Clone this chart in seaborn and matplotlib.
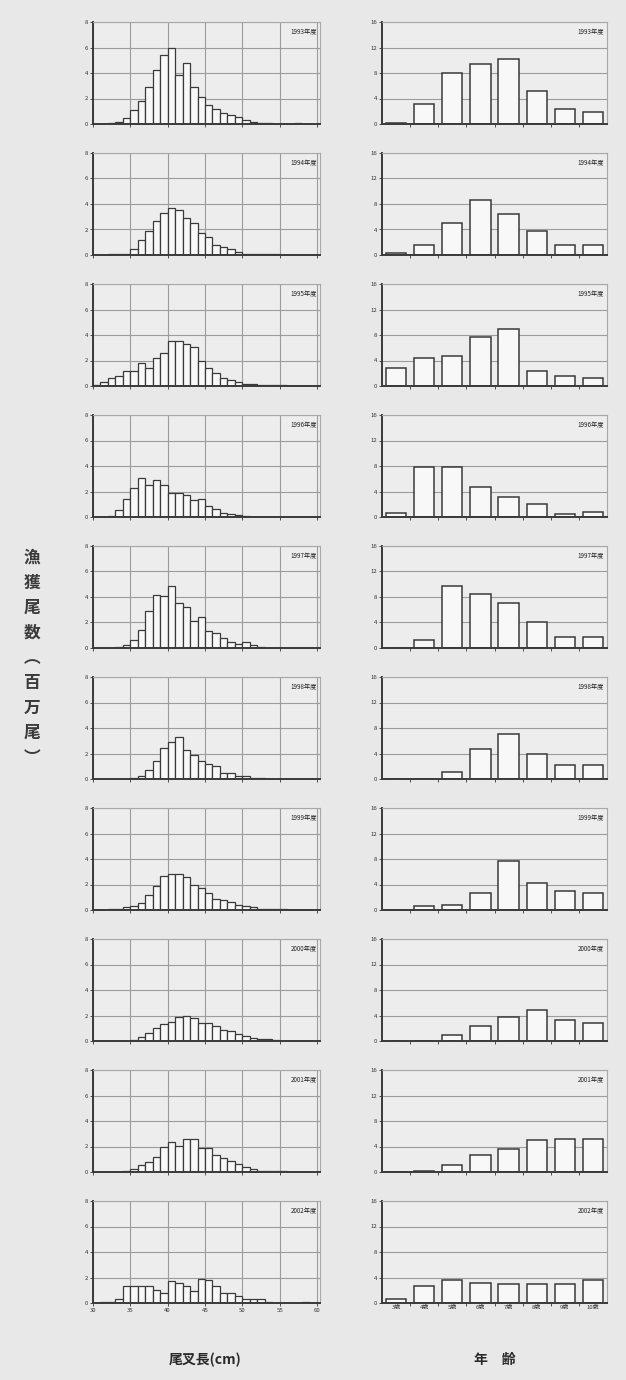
import numpy as np
import matplotlib
matplotlib.use("Agg")
import matplotlib.pyplot as plt
import seaborn as sns

# fork length classes (cm), lower edge of each 1 cm bar
lengths = list(range(30, 60))
age_labels = ["3歳", "4歳", "5歳", "6歳", "7歳", "8歳", "9歳", "10歳"]
years = [1993, 1994, 1995, 1996, 1997, 1998, 1999, 2000, 2001, 2002]

# catch by fork length (million fish), 30-59 cm
fl_1993 = [0, 0, 0.05, 0.15, 0.5, 1.1, 1.8, 2.9, 4.2, 5.4, 6.0, 3.85, 4.75, 2.9, 2.1,
           1.5, 1.2, 0.87, 0.7, 0.55, 0.35, 0.18, 0.1, 0.05, 0.03, 0.02, 0.02, 0.05, 0.02, 0]
fl_1994 = [0, 0, 0.05, 0.05, 0.05, 0.5, 1.2, 1.9, 2.7, 3.3, 3.7, 3.55, 2.9, 2.5, 1.7,
           1.4, 0.75, 0.6, 0.5, 0.2, 0.1, 0.08, 0.05, 0.05, 0.05, 0.03, 0.03, 0.02, 0.02, 0.02]
fl_1995 = [0.1, 0.3, 0.6, 0.8, 1.2, 1.2, 1.8, 1.4, 2.2, 2.6, 3.5, 3.5, 3.3, 3.05, 2.0,
           1.4, 1.0, 0.6, 0.45, 0.3, 0.15, 0.15, 0.05, 0.05, 0.05, 0.05, 0.02, 0.02, 0.02, 0.02]
fl_1996 = [0, 0, 0.05, 0.55, 1.45, 2.25, 3.05, 2.5, 2.9, 2.5, 1.85, 1.9, 1.7, 1.3, 1.45,
           0.85, 0.65, 0.3, 0.25, 0.15, 0.05, 0.02, 0.02, 0, 0, 0, 0, 0, 0, 0]
fl_1997 = [0, 0, 0, 0.05, 0.25, 0.65, 1.45, 2.9, 4.15, 4.05, 4.9, 3.5, 3.25, 2.1, 2.45,
           1.3, 1.15, 0.8, 0.5, 0.3, 0.5, 0.2, 0.05, 0.02, 0, 0, 0, 0, 0, 0]
fl_1998 = [0, 0, 0, 0, 0.02, 0.05, 0.2, 0.7, 1.45, 2.45, 2.9, 3.3, 2.3, 1.9, 1.45,
           1.2, 1.05, 0.45, 0.45, 0.2, 0.2, 0.1, 0.05, 0.02, 0, 0, 0, 0, 0, 0]
fl_1999 = [0, 0, 0.05, 0.1, 0.25, 0.35, 0.55, 1.2, 1.9, 2.65, 2.85, 2.85, 2.6, 2.0, 1.7,
           1.35, 0.9, 0.8, 0.6, 0.4, 0.35, 0.2, 0.1, 0.08, 0.05, 0.05, 0.02, 0.02, 0.02, 0.02]
fl_2000 = [0, 0, 0, 0, 0, 0.05, 0.3, 0.6, 1.05, 1.3, 1.5, 1.9, 1.95, 1.8, 1.45,
           1.4, 1.2, 0.9, 0.8, 0.55, 0.4, 0.25, 0.15, 0.15, 0.05, 0.02, 0, 0, 0, 0]
fl_2001 = [0, 0, 0, 0, 0.1, 0.25, 0.55, 0.75, 1.15, 1.95, 2.35, 2.05, 2.6, 2.55, 1.9,
           1.85, 1.35, 1.1, 0.85, 0.6, 0.4, 0.2, 0.1, 0.08, 0.05, 0.05, 0.02, 0.02, 0.02, 0.02]
fl_2002 = [0, 0.1, 0.1, 0.35, 1.3, 1.3, 1.3, 1.3, 1.0, 0.75, 1.75, 1.55, 1.3, 0.95, 1.9,
           1.8, 1.3, 0.75, 0.75, 0.55, 0.35, 0.35, 0.35, 0.1, 0.02, 0.02, 0.02, 0.02, 0.05, 0.02]

# catch by age (million fish), 3-10 years
age_1993 = [0.15, 3.2, 8.0, 9.4, 10.2, 5.2, 2.3, 1.9]
age_1994 = [0.3, 1.6, 5.0, 8.7, 6.5, 3.7, 1.6, 1.5]
age_1995 = [2.9, 4.4, 4.7, 7.7, 9.0, 2.3, 1.6, 1.2]
age_1996 = [0.7, 7.8, 7.8, 4.75, 3.2, 2.0, 0.4, 0.8]
age_1997 = [0, 1.2, 9.8, 8.5, 7.1, 4.0, 1.75, 1.75]
age_1998 = [0.05, 0.05, 1.15, 4.7, 7.0, 3.9, 2.2, 2.2]
age_1999 = [0.05, 0.55, 0.8, 2.6, 7.7, 4.3, 3.0, 2.6]
age_2000 = [0, 0, 1.0, 2.3, 3.8, 4.9, 3.3, 2.85]
age_2001 = [0, 0.2, 1.1, 2.7, 3.55, 5.0, 5.15, 5.15]
age_2002 = [0.6, 2.6, 3.55, 3.2, 3.05, 3.05, 3.05, 3.55]

fl_rows = [fl_1993, fl_1994, fl_1995, fl_1996, fl_1997,
           fl_1998, fl_1999, fl_2000, fl_2001, fl_2002]
age_rows = [age_1993, age_1994, age_1995, age_1996, age_1997,
            age_1998, age_1999, age_2000, age_2001, age_2002]

sns.set_theme(style="whitegrid")
plt.rcParams['font.family'] = ['Noto Sans CJK JP', 'DejaVu Sans']

W, H = 626, 1380
fig = plt.figure(figsize=(W / 100, H / 100), dpi=100, facecolor='#e8e8e8')

def panel(x0, x1, top, bottom):
    return fig.add_axes([x0 / W, 1 - bottom / H, (x1 - x0) / W, (bottom - top) / H])

def style(ax):
    ax.set_facecolor('#ededed')
    for s in ['top', 'right']:
        ax.spines[s].set_color('#a8a8a8')
        ax.spines[s].set_linewidth(0.8)
    for s in ['left', 'bottom']:
        ax.spines[s].set_color('#3a3a3a')
        ax.spines[s].set_linewidth(1.4)
    ax.tick_params(labelsize=4.3, length=2, width=0.6, color='#333333',
                   labelcolor='#333333', pad=1.5, bottom=True, left=True)
    ax.set_xlabel('')
    ax.set_ylabel('')

bar_face = '#f8f8f8'
bar_edge = '#3a3a3a'
centers = [l + 0.5 for l in lengths]

for i, year in enumerate(years):
    top = 22 + 131 * i
    bottom = top + 102
    last = i == len(years) - 1

    # fork length histogram
    ax = panel(93, 320, top, bottom)
    sns.barplot(x=centers, y=fl_rows[i], native_scale=True, width=1.0,
                color=bar_face, edgecolor=bar_edge, linewidth=0.9,
                saturation=1, errorbar=None, ax=ax)
    ax.set_xlim(30, 60.4)
    ax.set_ylim(0, 8)
    ax.set_xticks(range(30, 61, 5))
    ax.set_yticks([0, 2, 4, 6, 8])
    ax.grid(True, color='#9c9c9c', linewidth=0.8)
    style(ax)
    ax.tick_params(axis='x', labelbottom=last)
    ax.text(0.985, 0.9, f"{year}年度", transform=ax.transAxes, ha='right',
            va='center', fontsize=4.5, color='#222222')

    # age composition
    ax = panel(382, 607, top, bottom)
    sns.barplot(x=age_labels, y=age_rows[i], order=age_labels, width=0.72,
                color=bar_face, edgecolor=bar_edge, linewidth=1.1,
                saturation=1, errorbar=None, ax=ax)
    ax.set_xlim(-0.5, 7.5)
    ax.set_ylim(0, 16)
    ax.set_yticks([0, 4, 8, 12, 16])
    ax.yaxis.grid(True, color='#9c9c9c', linewidth=0.8)
    ax.xaxis.grid(False)
    style(ax)
    ax.set_xticks(np.arange(0.5, 7, 1), minor=True)
    ax.tick_params(axis='x', which='major', length=0, labelbottom=last)
    ax.tick_params(axis='x', which='minor', length=2, width=0.6,
                   color='#333333', bottom=True)
    ax.text(0.985, 0.9, f"{year}年度", transform=ax.transAxes, ha='right',
            va='center', fontsize=4.5, color='#222222')

fig.text(32 / W, 1 - 658 / H, "漁\n獲\n尾\n数\n︵\n百\n万\n尾\n︶",
         ha='center', va='center', fontsize=12, linespacing=1.5,
         fontweight='bold', color='#3a3a3a')
fig.text(205 / W, 1 - 1360 / H, "尾叉長(cm)", ha='center', va='center',
         fontsize=10, fontweight='bold', color='#2a2a2a')
fig.text(495 / W, 1 - 1360 / H, "年　齢", ha='center', va='center',
         fontsize=10, fontweight='bold', color='#2a2a2a')

fig.savefig("out.png", dpi=100, facecolor=fig.get_facecolor())
